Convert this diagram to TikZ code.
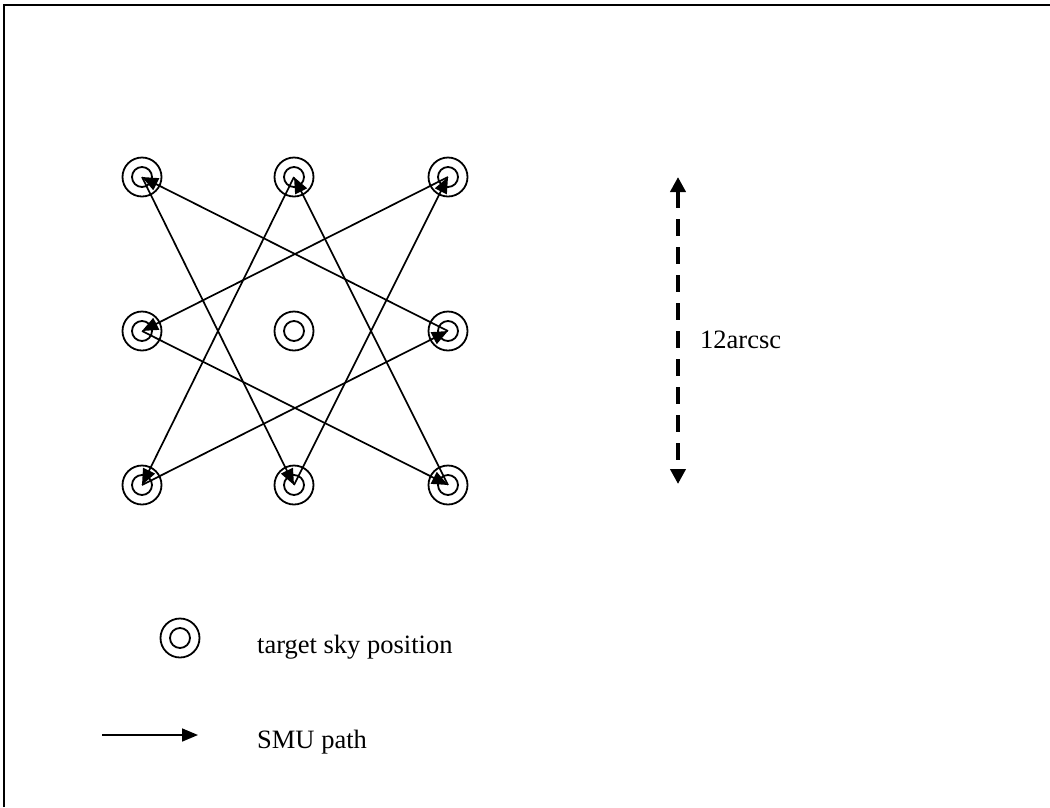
\documentclass[tikz,border=0pt]{standalone}
\usepackage{fontspec}
\setmainfont{Liberation Serif}
\usetikzlibrary{arrows.meta}
\begin{document}
\begin{tikzpicture}[x=1pt,y=-1pt,
  target/.style={circle,draw,line width=1.8pt,minimum size=39pt,inner sep=0pt,
    path picture={\draw[line width=1.8pt] (path picture bounding box.center) circle[radius=10pt];}},
  smu/.style={line width=1.7pt,-{Triangle[length=16pt,width=13pt]}},
  dimarrow/.style={line width=4pt,dash pattern=on 17pt off 11pt,
    {Triangle[length=15pt,width=15pt]}-{Triangle[length=15pt,width=15pt]}},
  lbl/.style={font=\fontsize{26.5}{30}\selectfont,inner sep=0pt,anchor=base west},
  frame/.style={line width=2pt}]
\useasboundingbox (0,0) rectangle (1050,807);
% frame
\coordinate (fbl) at (3.5,807);
\coordinate (ftl) at (3.5,4.5);
\coordinate (ftr) at (1050,4.5);
\draw[frame] (fbl) -- (ftl) -- (ftr);
% grid of target positions
\node[target] (tl) at (142,177) {};
\node[target] (tc) at (294,177) {};
\node[target] (tr) at (448,177) {};
\node[target] (ml) at (142,331) {};
\node[target] (mc) at (294,331) {};
\node[target] (mr) at (448,331) {};
\node[target] (bl) at (142,485) {};
\node[target] (bc) at (294,485) {};
\node[target] (br) at (448,485) {};
% SMU path
\draw[smu] (tl.center) -- (bc.center);
\draw[smu] (bc.center) -- (tr.center);
\draw[smu] (tr.center) -- (ml.center);
\draw[smu] (ml.center) -- (br.center);
\draw[smu] (br.center) -- (tc.center);
\draw[smu] (tc.center) -- (bl.center);
\draw[smu] (bl.center) -- (mr.center);
\draw[smu] (mr.center) -- (tl.center);
% scale arrow
\coordinate (dtop) at (678,177);
\coordinate (dbot) at (678,484);
\draw[dimarrow] (dtop) -- (dbot);
\node[lbl] (dimtxt) at (700,348) {12arcsc};
% legend
\node[target] (legsym) at (180,638) {};
\node[lbl] (legtxt) at (257,653) {target sky position};
\coordinate (la) at (102,735);
\coordinate (lb) at (198,735);
\draw[smu] (la) -- (lb);
\node[lbl] (smutxt) at (257,748) {SMU path};
\end{tikzpicture}
\end{document}
